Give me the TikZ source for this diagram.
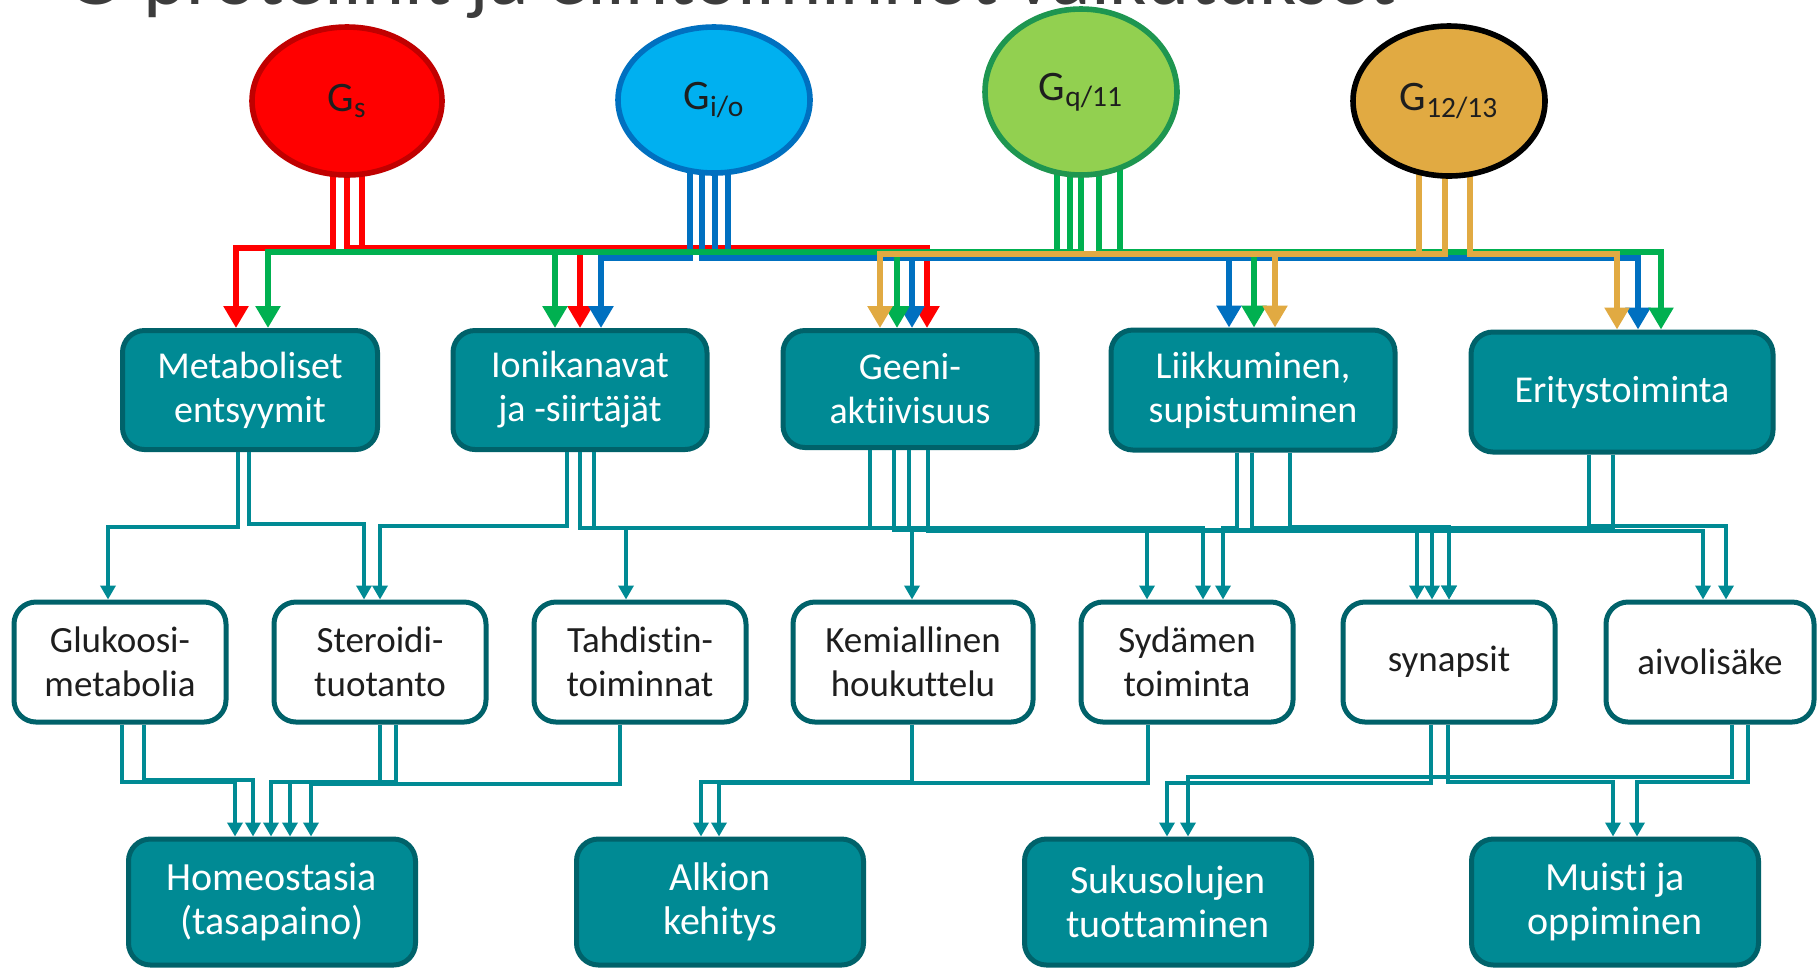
\documentclass[tikz,border=0pt]{standalone}
\usepackage{fontspec}
\setmainfont{Carlito}[Ligatures=NoCommon]
\usetikzlibrary{shapes.geometric,arrows.meta,backgrounds}

\definecolor{tealfill}{HTML}{008A94}
\definecolor{tealdark}{HTML}{00626A}
\definecolor{txtdark}{HTML}{1E1E1E}
\definecolor{titlegray}{HTML}{3C3C3C}
\definecolor{gsfill}{HTML}{FF0000}
\definecolor{gsdraw}{HTML}{C00000}
\definecolor{giofill}{HTML}{00B0F0}
\definecolor{giodraw}{HTML}{0070C0}
\definecolor{gqfill}{HTML}{92D050}
\definecolor{gqdraw}{HTML}{1E9650}
\definecolor{gtwfill}{HTML}{E1AA42}
\definecolor{redline}{HTML}{FF0000}
\definecolor{blueline}{HTML}{0070C0}
\definecolor{greenline}{HTML}{00B050}
\definecolor{goldline}{HTML}{E1AA42}

\tikzset{
	g_prot/.style={ellipse, line width=2.8pt, inner sep=0pt, text=txtdark, font=\fontsize{21}{22}\selectfont},
	mid_box/.style={rectangle, rounded corners=11pt, draw=tealdark, fill=tealfill, line width=2.5pt, inner sep=0pt, text=white, align=center, font=\fontsize{19}{22}\selectfont},
	sub_box/.style={mid_box, fill=white, text=txtdark, minimum width=106pt, minimum height=60pt, font=\fontsize{18.5}{22}\selectfont},
	end_box/.style={mid_box, minimum width=143.5pt, minimum height=63pt, font=\fontsize{20}{22}\selectfont},
	col_line/.style={line width=2.8pt, -{Triangle[width=12pt,length=11pt]}},
	teal_line/.style={line width=2.2pt, draw=tealfill, -{Triangle[width=7.5pt,length=7pt]}},
	title_text/.style={inner sep=0pt, text=titlegray, font=\fontsize{41}{44}\selectfont}
}

\begin{document}
\begin{tikzpicture}[x=0.5pt,y=-0.5pt]
	\useasboundingbox (0,0) rectangle (1818,971);
	\clip (0,0) rectangle (1818,971);
	\node[title_text, anchor=base west] (title) at (66,4) {G-proteiinit ja elintoiminnot vaikutukset};

	\node[g_prot, fill=gsfill, draw=gsdraw, minimum width=95pt, minimum height=74pt] (g_s) at (347,101) {G\textsubscript{s}};
	\node[g_prot, fill=giofill, draw=giodraw, minimum width=96pt, minimum height=73pt] (g_io) at (714,100) {G\textsubscript{i/o}};
	\node[g_prot, fill=gqfill, draw=gqdraw, minimum width=96pt, minimum height=83pt] (g_q) at (1081,92) {G\textsubscript{q/11}};
	\node[g_prot, fill=gtwfill, draw=black, minimum width=96pt, minimum height=75pt] (g_tw) at (1449,101) {G\textsubscript{12/13}};

	\node[mid_box, minimum width=127.5pt, minimum height=59.5pt] (met_ents) at (250,390) {Metaboliset\\entsyymit};
	\node[mid_box, minimum width=127pt, minimum height=59.5pt] (ion_kan) at (580,390) {Ionikanavat\\ja -siirtäjät};
	\node[mid_box, minimum width=127pt, minimum height=58.5pt] (gen_akt) at (910,389) {Geeni-\\aktiivisuus};
	\node[mid_box, minimum width=142pt, minimum height=60pt] (liik_sup) at (1253,390) {Liikkuminen,\\supistuminen};
	\node[mid_box, minimum width=151pt, minimum height=60pt] (erit_toim) at (1622,392) {Eritystoiminta};

	\node[sub_box] (glu_met) at (120,662) {Glukoosi-\\metabolia};
	\node[sub_box] (ste_tuo) at (380,662) {Steroidi-\\tuotanto};
	\node[sub_box] (tah_toi) at (640,662) {Tahdistin-\\toiminnat};
	\node[sub_box, minimum width=120pt] (kem_hou) at (913,662) {Kemiallinen\\houkuttelu};
	\node[sub_box] (syd_toi) at (1187,662) {Sydämen\\toiminta};
	\node[sub_box] (synap) at (1449,662) {synapsit};
	\node[sub_box, minimum width=104pt] (aivol) at (1710,662) {aivolisäke};

	\node[end_box] (homeo) at (272,902) {Homeostasia\\(tasapaino)};
	\node[end_box] (alkio) at (720,902) {Alkion\\kehitys};
	\node[end_box] (suku) at (1168,902) {Sukusolujen\\tuottaminen};
	\node[end_box] (muisti) at (1615,902) {Muisti ja\\oppiminen};

	\begin{scope}[on background layer]
		\fill[white] (0,0) rectangle (1818,971);
		\foreach \sx/\tx/\dst in {333/236/met_ents, 347/580/ion_kan, 362/927/gen_akt}
			\draw[col_line, draw=redline] (\sx,0 |- g_s.center) |- (\tx,248) -- (\tx,0 |- \dst.north);
		\foreach \sx/\tx/\dst in {690/601/ion_kan, 702/912/gen_akt, 715/1229/liik_sup, 728/1638/erit_toim}
			\draw[col_line, draw=blueline] (\sx,0 |- g_io.center) |- (\tx,258) -- (\tx,0 |- \dst.north);
		\foreach \sx/\tx/\dst in {1057/268/met_ents, 1070/555/ion_kan, 1081/897/gen_akt, 1099/1254/liik_sup, 1120/1661/erit_toim}
			\draw[col_line, draw=greenline] (\sx,0 |- g_q.center) |- (\tx,252) -- (\tx,0 |- \dst.north);
		\foreach \sx/\tx/\dst in {1419/880/gen_akt, 1445/1275/liik_sup, 1470/1617/erit_toim}
			\draw[col_line, draw=goldline] (\sx,0 |- g_tw.center) |- (\tx,254) -- (\tx,0 |- \dst.north);
	\end{scope}

	\foreach \sx/\by/\tx/\src/\dst in {238/527/108/met_ents/glu_met, 249/524/364/met_ents/ste_tuo, 567/526/380/ion_kan/ste_tuo, 580/528/626/ion_kan/tah_toi, 594/528/1203/ion_kan/syd_toi, 870/528/912/gen_akt/kem_hou, 894/530/1147/gen_akt/syd_toi, 909/530/1417/gen_akt/synap, 928/531/1703/gen_akt/aivol, 1237/528/1223/liik_sup/syd_toi, 1252/528/1432/liik_sup/synap, 1290/527/1449/liik_sup/synap, 1589/526/1726/erit_toim/aivol, 1613/528/1449/erit_toim/synap}
		\draw[teal_line] (\sx,0 |- \src.south) |- (\tx,\by) -- (\tx,0 |- \dst.north);

	\foreach \sx/\by/\tx/\src/\dst in {122/782/235/glu_met/homeo, 144/780/253/glu_met/homeo, 380/782/271/ste_tuo/homeo, 396/782/290/ste_tuo/homeo, 620/784/311/tah_toi/homeo, 912/782/701/kem_hou/alkio, 1148/783/719/syd_toi/alkio, 1431/783/1167/synap/suku, 1448/782/1613/synap/muisti, 1732/777/1188/aivol/suku, 1748/782/1637/aivol/muisti}
		\draw[teal_line] (\sx,0 |- \src.south) |- (\tx,\by) -- (\tx,0 |- \dst.north);
\end{tikzpicture}
\end{document}
